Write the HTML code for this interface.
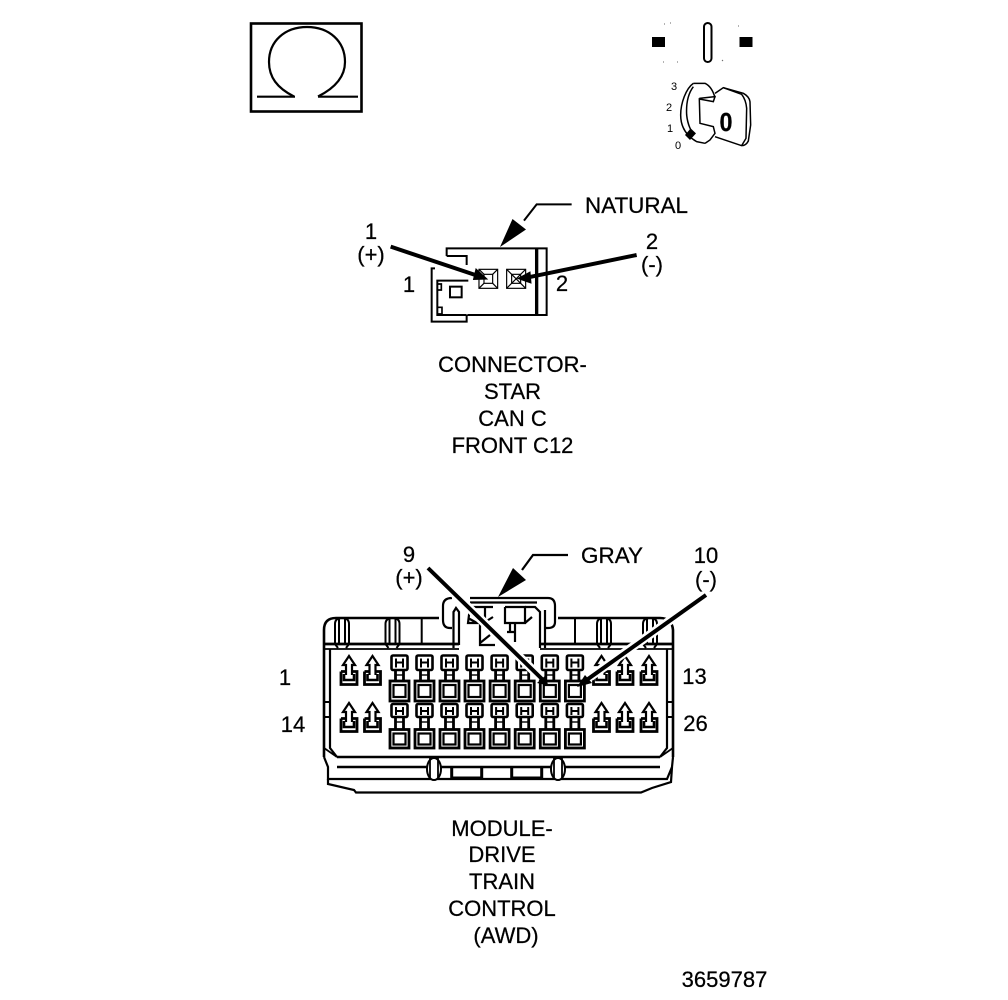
<!DOCTYPE html>
<html>
<head>
<meta charset="utf-8">
<style>
html,body{margin:0;padding:0;background:#fff;width:1008px;height:1000px;overflow:hidden}
svg{display:block}
text{font-family:"Liberation Sans",sans-serif;fill:#000;stroke:#000;stroke-width:.25px}
</style>
</head>
<body>
<svg width="1008" height="1000" viewBox="0 0 1008 1000" xmlns="http://www.w3.org/2000/svg">
<defs>
<g id="pin" fill="none" stroke="#000">
  <rect x="-8" y="1" width="16" height="14.500" rx="1.500" stroke-width="2.600"/>
  <path d="M-3.500 4V13M3.500 4V13M-3.500 8H3.500" stroke-width="2"/>
  <path d="M-4 15.500V26M4 15.500V26" stroke-width="2.800"/>
  <path d="M-3 20.500H3" stroke-width="1.400"/>
  <rect x="-9.500" y="26.500" width="19" height="20" stroke-width="2.800"/>
  <rect x="-6" y="30.500" width="12" height="12" stroke-width="2.200"/>
</g>
<g id="pin2" fill="none" stroke="#000">
  <rect x="-8" y="1" width="16" height="13" rx="1.500" stroke-width="2.600"/>
  <path d="M-3.500 4V12M3.500 4V12M-3.500 8H3.500" stroke-width="2"/>
  <path d="M-4 14V26M4 14V26" stroke-width="2.800"/>
  <path d="M-3 19H3" stroke-width="1.400"/>
  <rect x="-9.500" y="26.500" width="19" height="18.500" stroke-width="2.800"/>
  <rect x="-6" y="30.500" width="12" height="11" stroke-width="2.200"/>
</g>
<g id="ap" stroke="#000" fill="none">
  <path d="M-8 16.500H-3.500M3.500 16.500H8V29.500H-8V16.500" stroke-width="2.800"/>
  <rect x="-5.500" y="24" width="11" height="3" fill="#fff" stroke="none"/>
  <path d="M-5 19V25H5V19" stroke-width="2.600"/>
  <path d="M-3 20V10H-6L0 1L6 10H3V20" stroke-width="2.200"/>
</g>
<g id="rib" fill="none" stroke="#000" stroke-width="2">
  <path d="M-7 26V6Q-7 0 0 0Q7 0 7 6V26"/>
  <path d="M-3 26V1M3 26V1"/>
  <path d="M-7 26L-4 30M7 26L4 30"/>
</g>
</defs>

<!-- Omega box -->
<rect x="251" y="23.500" width="110.500" height="88" fill="none" stroke="#000" stroke-width="2.600"/>
<path d="M294 96.500C277 88 269 77 269 62C269 41 285 27 307 27C329 27 345 41 345 62C345 77 335 88 318 96.500" fill="none" stroke="#000" stroke-width="2.200"/>
<path d="M257 96.700H295M318 96.700H358" stroke="#000" stroke-width="2.200" fill="none"/>

<!-- Ignition symbol -->
<rect x="652" y="37" width="13" height="10" fill="#000"/>
<rect x="739.500" y="37" width="13" height="10" fill="#000"/>
<rect x="704" y="23" width="7.500" height="39" rx="3.700" fill="#fff" stroke="#000" stroke-width="2"/>
<path d="M664 24h1M670 23h1M738 26h1M663 62h1M677 62h1M722 61l1 -1" stroke="#666" stroke-width="1" fill="none"/>
<g transform="translate(660,75) scale(0.3333)" fill="none" stroke="#000" stroke-width="4.500">
  <path d="M100 25C78 40 62 85 62 120C62 150 75 180 110 200L135 205"/>
  <path d="M100 35C85 55 78 85 80 120C82 140 88 160 100 178"/>
  <path d="M100 25H135C150 32 160 50 165 68"/>
  <path d="M118 70L165 65L160 80L118 72L120 145L160 155L165 175L150 195L135 205"/>
  <path d="M165 55L190 38L250 55Q268 65 270 80L272 150L265 198Q258 212 245 212L165 185"/>
  <path d="M190 38L245 58Q258 75 260 100L258 190L245 212"/>
  <path d="M75 180L92 160L108 175L90 195Z" fill="#000" stroke="none"/>
</g>
<text x="671" y="90" font-size="11" style="stroke-width:0">3</text>
<text x="666" y="111" font-size="11" style="stroke-width:0">2</text>
<text x="667" y="132" font-size="11" style="stroke-width:0">1</text>
<text x="675" y="149" font-size="11" style="stroke-width:0">0</text>
<text x="726" y="131" font-size="26" font-weight="bold" text-anchor="middle" textLength="13" lengthAdjust="spacingAndGlyphs">0</text>

<!-- Connector 1 -->
<g transform="translate(350,190) scale(0.3333)" fill="none" stroke="#000" stroke-width="6">
  <path d="M290 198V175H590V375H352"/>
  <path d="M290 198H350V225"/>
  <path d="M560 175V375" stroke-width="10"/>
  <path d="M255 235H245V395H350V375"/>
  <path d="M355 272H262V375H350"/>
  <rect x="300" y="290" width="35" height="32" stroke-width="6"/>
  <path d="M262 282H274V300H262M262 352H276V372H262" stroke-width="5"/>
  <g stroke-width="3.500">
    <rect x="387" y="238" width="56" height="57"/>
    <rect x="402" y="253" width="26" height="27"/>
    <path d="M387 238L402 253M443 238L428 253M387 295L402 280M443 295L428 280"/>
    <rect x="470" y="238" width="57" height="57"/>
    <rect x="485" y="253" width="27" height="27"/>
    <path d="M470 238L527 295M527 238L470 295"/>
  </g>
  <path d="M122 170L385 258" stroke-width="12"/>
  <path d="M860 195L535 262" stroke-width="12"/>
  <path d="M665 43H560L522 92"/>
</g>
<path d="M487 279L476 269L473.500 279.500Z" fill="#000" stroke="#000" stroke-width="1"/>
<path d="M518 278.500L530 272L531 283Z" fill="#000" stroke="#000" stroke-width="1"/>
<path d="M500 247L512.500 219L526 229.500Z" fill="#000"/>

<text x="371" y="239" font-size="22" text-anchor="middle">1</text>
<text x="371" y="262" font-size="22" text-anchor="middle">(+)</text>
<text x="409" y="292" font-size="22" text-anchor="middle">1</text>
<text x="562" y="291" font-size="22" text-anchor="middle">2</text>
<text x="652" y="249" font-size="22" text-anchor="middle">2</text>
<text x="652" y="272" font-size="22" text-anchor="middle">(-)</text>
<text x="585" y="213" font-size="22" textLength="103" lengthAdjust="spacingAndGlyphs">NATURAL</text>

<text x="512.500" y="372" font-size="22" text-anchor="middle">CONNECTOR-</text>
<text x="512.500" y="399" font-size="22" text-anchor="middle">STAR</text>
<text x="512.500" y="426" font-size="22" text-anchor="middle">CAN C</text>
<text x="512.500" y="453" font-size="22" text-anchor="middle">FRONT C12</text>

<!-- Module housing -->
<g fill="none" stroke="#000" stroke-width="2.600">
  <path d="M324 757V630Q324 618 336 618H439"/>
  <path d="M558 618H660Q672 618 673 630V757"/>
  <path d="M324 644H459M540 644H673" stroke-width="2.800"/>
  <path d="M324 649H459M540 649H673" stroke-width="1.800"/>
  <path d="M330 649V748L337 757M667 649V748L660 757" stroke-width="2.200"/>
  <path d="M324 702H330M324 717H330M667 702H673M667 717H673" stroke-width="2"/>
  <path d="M324 748L337 757M673 748L660 757" stroke-width="1.800"/>
  <path d="M337 757H660M337 767H660" stroke-width="2.600"/>
  <path d="M324 757L328 767V779H667L672 767L673 757" stroke-width="2.200"/>
  <path d="M328 779V784L354 790L356 792.500H641L652 788L671 782L672 767" stroke-width="2.200"/>
  <path d="M451.700 767V778H481.700V767M511.700 767V778H541.700V767" stroke-width="3"/>
  <!-- clips -->
  <ellipse cx="434" cy="769" rx="7" ry="11" fill="#fff" stroke-width="2"/>
  <path d="M430 758V778M438 758V778" stroke-width="1.800"/>
  <ellipse cx="558" cy="769" rx="7" ry="11" fill="#fff" stroke-width="2"/>
  <path d="M554 758V778M562 758V778" stroke-width="1.800"/>
  <!-- latch -->
  <g stroke-width="2.200">
    <path d="M470 598H548Q555 598 555 606V622Q555 628 548 628H545"/>
    <path d="M470 602.500H537"/>
    <path d="M452 598Q443 598 443 606V620Q443 628 450 628H452"/>
    <path d="M453.500 648V612L456 608L459 612V645"/>
    <path d="M525 607H535L540 612V648M545 610V648"/>
    <path d="M470 607H493M485 607V622L493 617M470 607L468 623H480M468 618L477 623"/>
    <path d="M480 623V645H495M480 643L490 635"/>
    <path d="M505 607H525V623H510V632M505 607V623H510M515 623V642M507 632H515M525 623L532 617"/>
  </g>
  <path d="M421.700 618V644M575 618V644" stroke-width="2"/>
</g>
<use href="#rib" x="342" y="618"/>
<use href="#rib" x="392.500" y="618"/>
<use href="#rib" x="604" y="618"/>
<use href="#rib" x="650" y="618"/>

<!-- Pins -->
<use href="#pin" x="399.500" y="654.500"/><use href="#pin" x="424.500" y="654.500"/><use href="#pin" x="449.500" y="654.500"/><use href="#pin" x="474.500" y="654.500"/><use href="#pin" x="499.600" y="654.500"/><use href="#pin" x="524.700" y="654.500"/><use href="#pin" x="549.800" y="654.500"/><use href="#pin" x="574.900" y="654.500"/>
<use href="#pin2" x="399.500" y="703"/><use href="#pin2" x="424.500" y="703"/><use href="#pin2" x="449.500" y="703"/><use href="#pin2" x="474.500" y="703"/><use href="#pin2" x="499.600" y="703"/><use href="#pin2" x="524.700" y="703"/><use href="#pin2" x="549.800" y="703"/><use href="#pin2" x="574.900" y="703"/>
<use href="#ap" x="349" y="655"/><use href="#ap" x="372.500" y="655"/>
<use href="#ap" x="349" y="702"/><use href="#ap" x="372.500" y="702"/>
<use href="#ap" x="601.500" y="655"/><use href="#ap" x="625" y="655"/><use href="#ap" x="649" y="655"/>
<use href="#ap" x="601.500" y="702"/><use href="#ap" x="625" y="702"/><use href="#ap" x="649" y="702"/>

<!-- Arrows module -->
<path d="M428 568L540 677" stroke="#fff" stroke-width="9" fill="none"/>
<path d="M706 595L590 677" stroke="#fff" stroke-width="9" fill="none"/>
<path d="M428 568L542 679" stroke="#000" stroke-width="4" fill="none"/>
<path d="M706 595L588 679" stroke="#000" stroke-width="4" fill="none"/>
<path d="M548 685.500L537 683L546 675Z" fill="#000"/>
<path d="M577 687L585 675L592 683Z" fill="#000"/>
<path d="M568 555H533L522 570" stroke="#000" stroke-width="2.200" fill="none"/>
<path d="M498 597L513 568L526 580Z" fill="#000"/>

<text x="409" y="562" font-size="22" text-anchor="middle">9</text>
<text x="409" y="585" font-size="22" text-anchor="middle">(+)</text>
<text x="706" y="563" font-size="22" text-anchor="middle">10</text>
<text x="706" y="587" font-size="22" text-anchor="middle">(-)</text>
<text x="581" y="563" font-size="22" textLength="62" lengthAdjust="spacingAndGlyphs">GRAY</text>
<text x="285" y="685" font-size="22" text-anchor="middle">1</text>
<text x="694.500" y="684" font-size="22" text-anchor="middle">13</text>
<text x="293" y="732" font-size="22" text-anchor="middle">14</text>
<text x="695.500" y="731" font-size="22" text-anchor="middle">26</text>

<text x="502" y="836" font-size="22" text-anchor="middle">MODULE-</text>
<text x="502" y="862" font-size="22" text-anchor="middle">DRIVE</text>
<text x="502" y="889" font-size="22" text-anchor="middle">TRAIN</text>
<text x="502" y="916" font-size="22" text-anchor="middle">CONTROL</text>
<text x="506" y="943" font-size="22" text-anchor="middle">(AWD)</text>
<text x="724.500" y="987" font-size="22" text-anchor="middle">3659787</text>
</svg>
</body>
</html>
